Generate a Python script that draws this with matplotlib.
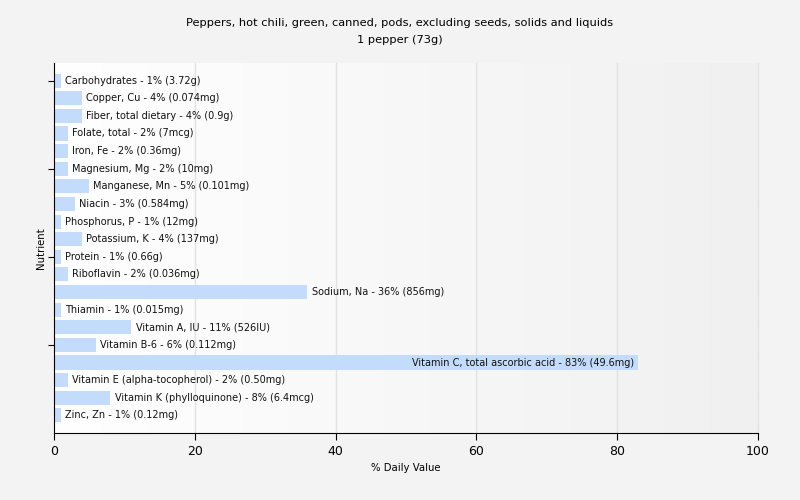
import matplotlib.pyplot as plt
import numpy as np

nutrients = ["Carbohydrates", "Copper, Cu", "Fiber, total dietary", "Folate, total", "Iron, Fe",
             "Magnesium, Mg", "Manganese, Mn", "Niacin", "Phosphorus, P", "Potassium, K",
             "Protein", "Riboflavin", "Sodium, Na", "Thiamin", "Vitamin A, IU", "Vitamin B-6",
             "Vitamin C, total ascorbic acid", "Vitamin E (alpha-tocopherol)",
             "Vitamin K (phylloquinone)", "Zinc, Zn"]
values = [1, 4, 4, 2, 2, 2, 5, 3, 1, 4, 1, 2, 36, 1, 11, 6, 83, 2, 8, 1]
amounts = ["3.72g", "0.074mg", "0.9g", "7mcg", "0.36mg", "10mg", "0.101mg", "0.584mg",
           "12mg", "137mg", "0.66g", "0.036mg", "856mg", "0.015mg", "526IU", "0.112mg",
           "49.6mg", "0.50mg", "6.4mcg", "0.12mg"]

fig = plt.figure(figsize=(8, 5), dpi=100, facecolor="#f3f3f3")
ax = fig.add_axes([0.0675, 0.134, 0.88, 0.74])

# background gradient, white to light grey
grad = np.linspace(0, 1, 256).reshape(1, -1)
cmap = plt.matplotlib.colors.LinearSegmentedColormap.from_list("g", ["#ffffff", "#f0f0f0"])
ax.imshow(grad, extent=[0, 100, 20, -1], aspect="auto", cmap=cmap, zorder=0)

y = np.arange(len(nutrients))
ax.barh(y, values, height=0.8, color="#c3dcfb", zorder=2)
for yi, v, n, a in zip(y, values, nutrients, amounts):
    label = f"{n} - {v}% ({a})"
    if v > 60:
        ax.text(v - 0.6, yi, label, ha="right", va="center", fontsize=7, color="#111111", zorder=3)
    else:
        ax.text(v + 0.6, yi, label, ha="left", va="center", fontsize=7, color="#111111", zorder=3)

ax.set_xlim(0, 100)
ax.set_ylim(20, -1)
ax.set_xticks([0, 20, 40, 60, 80, 100])
ax.set_yticks([0, 5, 10, 15])
ax.set_yticklabels([])
ax.tick_params(axis="x", labelsize=9, length=5)
ax.tick_params(axis="y", length=8, direction="inout")
for gx in [20, 40, 60, 80, 100]:
    ax.axvline(gx, color="#e2e2e2", linewidth=1, zorder=1, clip_on=False)
for s in ["top", "right"]:
    ax.spines[s].set_visible(False)

ax.set_xlabel("% Daily Value", fontsize=7.3)
ax.set_ylabel("Nutrient", fontsize=7.3, labelpad=-2)
fig.suptitle("Peppers, hot chili, green, canned, pods, excluding seeds, solids and liquids\n1 pepper (73g)",
             fontsize=8.2, y=0.964, linespacing=1.9)

fig.savefig("out.png", dpi=100, facecolor=fig.get_facecolor())
